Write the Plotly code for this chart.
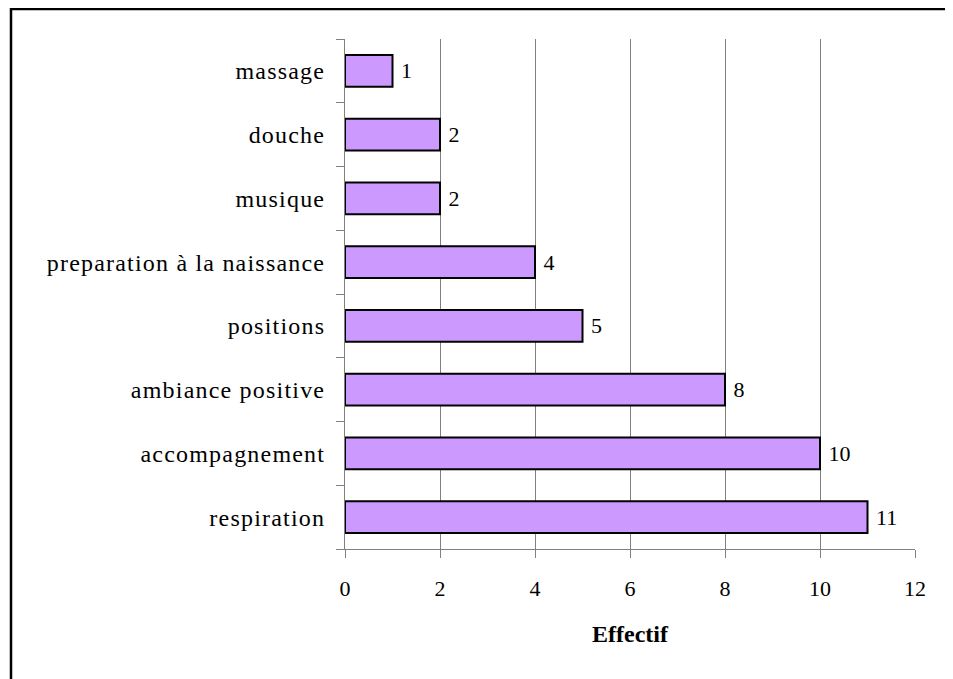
import plotly.graph_objects as go

categories = ["respiration", "accompagnement", "ambiance positive", "positions",
              "preparation à la naissance", "musique", "douche", "massage"]
values = [11, 10, 8, 5, 4, 2, 2, 1]
x_ticks = [0, 2, 4, 6, 8, 10, 12]

FONT = "Liberation Serif, Times New Roman, serif"
FS = 22

fig = go.Figure()
fig.add_trace(go.Bar(
    y=categories, x=values, orientation="h",
    marker=dict(color="#CC99FF", line=dict(color="black", width=2)),
    text=[f" {v}" for v in values], textposition="outside",
    textfont=dict(family=FONT, size=FS, color="black"),
    cliponaxis=False,
))

# the page body has an 8px margin; compensate so the plot lands where intended
OFF = 8
W, H = 953 - OFF, 679 - OFF
ml, mr, mt, mb = 345 - OFF, 38, 39 - OFF, 130
pw, ph = W - ml - mr, H - mt - mb

fig.update_layout(
    width=W, height=H,
    margin=dict(l=ml, r=mr, t=mt, b=mb, pad=0),
    paper_bgcolor="white", plot_bgcolor="white",
    bargap=0.5, showlegend=False,
    font=dict(family=FONT, size=FS, color="black"),
    xaxis=dict(
        range=[0, 12], tickvals=x_ticks, ticks="outside", ticklen=8,
        tickcolor="#808080", showline=True, linecolor="#808080", linewidth=1,
        showgrid=True, gridcolor="#808080", gridwidth=1, zeroline=False,
        tickfont=dict(family=FONT, size=FS), ticklabelstandoff=12,
        title=dict(text="<b>Effectif</b>", font=dict(family=FONT, size=24), standoff=24),
    ),
    yaxis=dict(
        showline=True, linecolor="#808080", linewidth=1, ticks="outside",
        tickson="boundaries", ticklen=8, tickcolor="#808080", showgrid=False,
        tickfont=dict(family=FONT, size=24), ticklabelstandoff=14,
    ),
)

bx0 = (11 - OFF - ml) / pw
by1 = (H - mb - (9 - OFF)) / ph
fig.add_shape(type="path", xref="paper", yref="paper",
              path=f"M {bx0} -0.5 L {bx0} {by1} L 1.2 {by1}",
              line=dict(color="black", width=2.5))

post = """
document.querySelectorAll('.ytick text').forEach(function(t){t.style.letterSpacing='1.2px';});
"""
fig.write_html("out.html", post_script=post)
